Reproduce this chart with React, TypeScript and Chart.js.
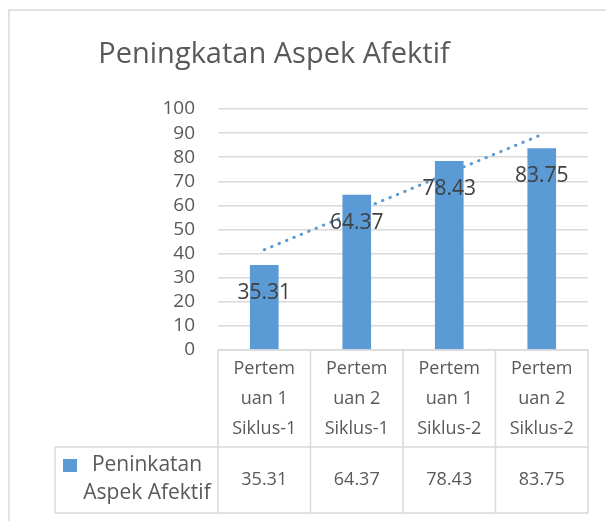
import React, { useEffect, useRef } from "react";
import { Chart, registerables } from "chart.js";

Chart.register(...registerables);

const TITLE = "Peningkatan Aspek Afektif";
const SERIES_NAME_LINES = ["Peninkatan", "Aspek Afektif"];
const CATEGORIES = [
  ["Pertem", "uan 1", "Siklus-1"],
  ["Pertem", "uan 2", "Siklus-1"],
  ["Pertem", "uan 1", "Siklus-2"],
  ["Pertem", "uan 2", "Siklus-2"],
];
const VALUES = [35.31, 64.37, 78.43, 83.75];
const VALUE_LABELS = ["35.31", "64.37", "78.43", "83.75"];
// Dotted linear trend line: endpoints, straight between.
const TREND = [41.6, null, null, 89.4];
const Y_MIN = 0;
const Y_MAX = 100;
const Y_STEP = 10;

const FONT = "'Open Sans', 'DejaVu Sans', sans-serif";
const BAR_COLOR = "#5b9bd5";
const TEXT = "#595959";
const LABEL_TEXT = "#404040";
const GRID = "#d9d9d9";

const decorPlugin = {
  id: "decor",
  beforeDraw(chart: any) {
    const ctx = chart.ctx;
    ctx.save();
    ctx.fillStyle = "#ffffff";
    ctx.fillRect(0, 0, chart.width, chart.height);
    ctx.strokeStyle = GRID;
    ctx.lineWidth = 1.5;
    ctx.beginPath();
    ctx.moveTo(9, chart.height);
    ctx.lineTo(9, 10);
    ctx.lineTo(chart.width, 10);
    ctx.stroke();
    ctx.restore();
  },
  afterDatasetsDraw(chart: any) {
    const ctx = chart.ctx;
    const meta = chart.getDatasetMeta(1);
    ctx.save();
    ctx.font = `21px ${FONT}`;
    ctx.fillStyle = LABEL_TEXT;
    ctx.textAlign = "center";
    ctx.textBaseline = "middle";
    meta.data.forEach((bar: any, i: number) => {
      ctx.fillText(VALUE_LABELS[i], bar.x, bar.y + 28);
    });
    ctx.restore();
  },
  afterDraw(chart: any) {
    const ctx = chart.ctx;
    const area = chart.chartArea;
    const xs = chart.scales.x;
    const n = CATEGORIES.length;
    const half = (area.right - area.left) / n / 2;
    const top = area.bottom;
    const mid = 447;
    const bottom = 513;
    const legendLeft = 55;

    ctx.save();
    // Title
    ctx.font = `29px ${FONT}`;
    ctx.fillStyle = TEXT;
    ctx.textAlign = "center";
    ctx.textBaseline = "middle";
    ctx.fillText(TITLE, 274, 55);

    // Table grid
    ctx.strokeStyle = GRID;
    ctx.lineWidth = 1.5;
    ctx.beginPath();
    ctx.moveTo(area.left, top);
    ctx.lineTo(area.right, top);
    ctx.moveTo(legendLeft, mid);
    ctx.lineTo(area.right, mid);
    ctx.moveTo(legendLeft, bottom);
    ctx.lineTo(area.right, bottom);
    ctx.moveTo(legendLeft, mid);
    ctx.lineTo(legendLeft, bottom);
    for (let i = 0; i < n; i++) {
      const cx = xs.getPixelForValue(i);
      ctx.moveTo(cx - half, top);
      ctx.lineTo(cx - half, bottom);
    }
    ctx.moveTo(area.right, top);
    ctx.lineTo(area.right, bottom);
    ctx.stroke();

    // Header text and values
    ctx.font = `18px ${FONT}`;
    ctx.fillStyle = TEXT;
    ctx.textAlign = "center";
    ctx.textBaseline = "middle";
    CATEGORIES.forEach((lines, i) => {
      const cx = xs.getPixelForValue(i);
      lines.forEach((ln, j) => {
        ctx.fillText(ln, cx, 369 + j * 30);
      });
      ctx.fillText(VALUE_LABELS[i], cx, 480);
    });

    // Legend cell
    ctx.fillStyle = BAR_COLOR;
    ctx.fillRect(63, 459, 14, 13);
    ctx.font = `21px ${FONT}`;
    ctx.fillStyle = TEXT;
    SERIES_NAME_LINES.forEach((ln, j) => {
      ctx.fillText(ln, 147, 465 + j * 28);
    });
    ctx.restore();
  },
};

export default function App() {
  const ref = useRef<HTMLCanvasElement | null>(null);

  useEffect(() => {
    document.body.style.margin = "0";
    const canvas = ref.current;
    if (!canvas) return;
    const chart = new Chart(canvas, {
      type: "bar",
      data: {
        labels: CATEGORIES,
        datasets: [
          {
            type: "line",
            label: "Trend",
            data: TREND,
            borderColor: BAR_COLOR,
            borderWidth: 3,
            borderDash: [0.5, 7.5],
            borderCapStyle: "round",
            pointRadius: 0,
            spanGaps: true,
            fill: false,
            order: 0,
          } as any,
          {
            type: "bar",
            label: SERIES_NAME_LINES.join(" "),
            data: VALUES,
            backgroundColor: BAR_COLOR,
            categoryPercentage: 1,
            barPercentage: 0.31,
            order: 1,
          } as any,
        ],
      },
      options: {
        responsive: false,
        animation: false,
        devicePixelRatio: 1,
        layout: { padding: { top: 109, bottom: 171, left: 0, right: 18 } },
        plugins: {
          legend: { display: false },
          title: { display: false },
          tooltip: { enabled: false },
        },
        scales: {
          x: {
            display: false,
          },
          y: {
            min: Y_MIN,
            max: Y_MAX,
            ticks: {
              stepSize: Y_STEP,
              autoSkip: false,
              color: TEXT,
              font: { size: 19, family: FONT },
              padding: 23,
            },
            grid: { color: GRID, lineWidth: 1.5, drawTicks: false },
            border: { display: false },
            afterFit(scale: any) {
              scale.width = 218;
            },
          },
        },
      },
      plugins: [decorPlugin],
    });
    return () => chart.destroy();
  }, []);

  return <canvas ref={ref} width={606} height={521} style={{ display: "block" }} />;
}
